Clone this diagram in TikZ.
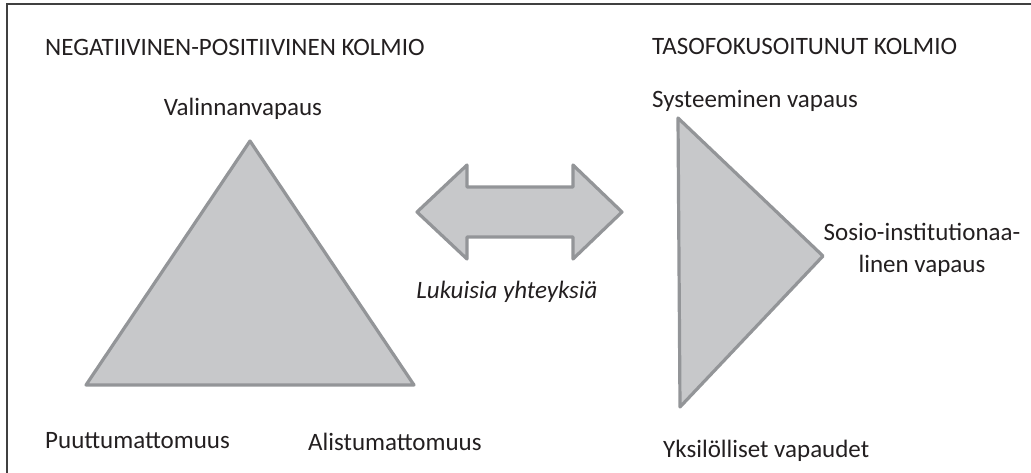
\documentclass[tikz,border=0pt]{standalone}
\usepackage{fontspec}
\setmainfont{Carlito}
\usetikzlibrary{calc}
\definecolor{kolmiofill}{HTML}{C7C8CA}
\definecolor{kolmioline}{HTML}{939598}
\definecolor{tekstiv}{HTML}{231F20}
\tikzset{
	kulma/.style={text=tekstiv, font=\fontsize{25}{32}\selectfont, inner sep=0pt},
	otsikko/.style={kulma, anchor=base west},
	muoto/.style={fill=kolmiofill, draw=kolmioline, line width=3.2pt, line join=round}
}
\begin{document}
\begin{tikzpicture}[x=1pt, y=-1pt]
	\useasboundingbox (0,0) rectangle (1031,472);
	\draw[line width=1.6pt, draw=black!75] (7,520) |- (1060,4);

	\begin{scope}
		\coordinate (V1) at (250,141);
		\coordinate (V2) at (86,385);
		\coordinate (V3) at (414,385);
		\draw[muoto] (V1) -- (V2) -- (V3) -- cycle;

		\node[otsikko] (T1) at (45,55) {NEGATIIVINEN-POSITIIVINEN KOLMIO};
		\node[kulma, anchor=base] (L1) at (243,115) {Valinnanvapaus};
		\node[otsikko] (L2) at (45,448) {Puuttumattomuus};
		\node[otsikko] (L3) at (308,450) {Alistumattomuus};
	\end{scope}

	\begin{scope}
		\coordinate (W1) at (678,118);
		\coordinate (W2) at (823,256);
		\coordinate (W3) at (680,407);
		\draw[muoto] (W1) -- (W2) -- (W3) -- cycle;

		\node[otsikko] (T2) at (652,54) {TASOFOKUSOITUNUT KOLMIO};
		\node[otsikko] (M1) at (652,107) {Systeeminen vapaus};
		\node[kulma, align=center, anchor=base] (M2) at (922,272) {Sosio-institutionaa-\\linen vapaus};
		\node[otsikko] (M3) at (663,457) {Yksilölliset vapaudet};
	\end{scope}

	% kaksisuuntainen nuoli
	\draw[muoto] (417,212) -- (467,165) -- (467,187) -- (573,187) -- (573,165)
		-- (622,212) -- (573,259) -- (573,237) -- (467,237) -- (467,259) -- cycle;
	\node[kulma, anchor=base, font=\fontsize{25}{30}\selectfont\itshape] (Y) at (507,298) {Lukuisia yhteyksiä};
\end{tikzpicture}
\end{document}
